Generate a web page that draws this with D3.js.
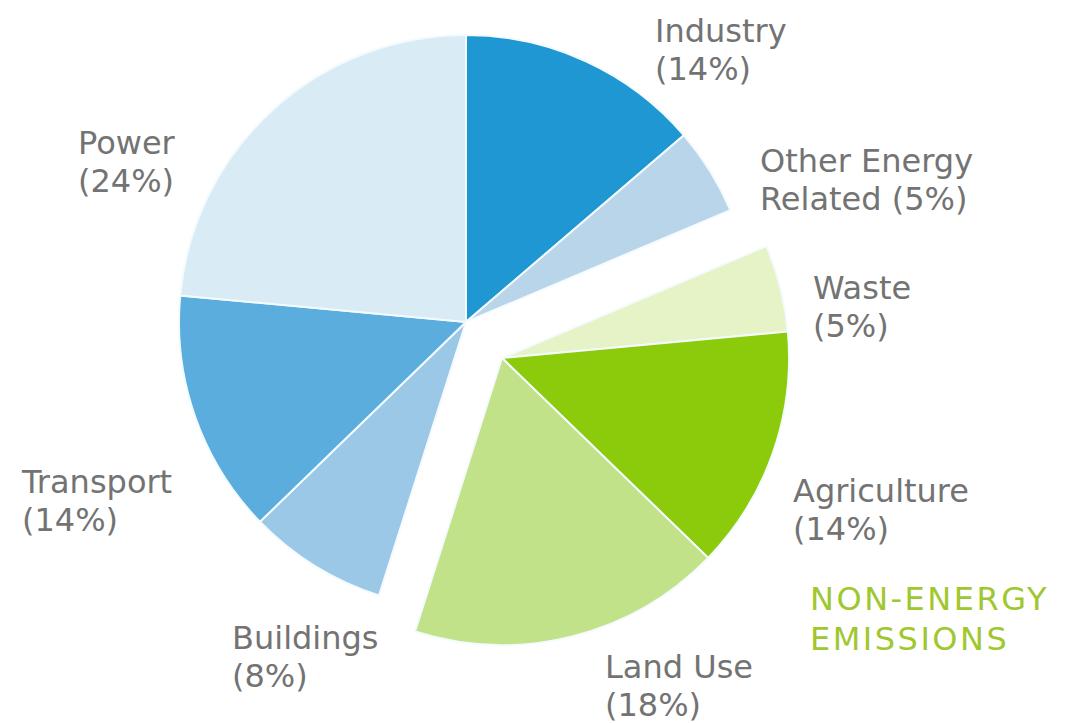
<!DOCTYPE html>
<html>
<head>
<meta charset="utf-8">
<script src="https://cdn.jsdelivr.net/npm/d3@7"></script>
<style>
  html, body { margin: 0; padding: 0; background: #fff; }
  .label { font-family: "DejaVu Sans", Verdana, sans-serif; font-size: 32px; fill: #737373; }
  .group-label { font-family: "DejaVu Sans", Verdana, sans-serif; font-size: 32px; fill: #9fc72e; letter-spacing: 2.5px; }
</style>
</head>
<body>
<div class="canvas"></div>
<script>
// what to show
var categories = ['Industry', 'Other Energy Related', 'Waste', 'Agriculture', 'Land Use', 'Buildings', 'Transport', 'Power'];
var shares = [14, 5, 5, 14, 18, 8, 14, 24];
var nonEnergy = ['Waste', 'Agriculture', 'Land Use'];
var groupTitle = ['NON-ENERGY', 'EMISSIONS'];

// how it looks
var colors = {
    'Industry': '#1f97d2',
    'Other Energy Related': '#b9d5ea',
    'Waste': '#e5f3c6',
    'Agriculture': '#8cca0c',
    'Land Use': '#c2e289',
    'Buildings': '#9cc8e8',
    'Transport': '#5badde',
    'Power': '#d9ebf5'
};

// where the labels sit (first line baseline)
var labelPos = {
    'Industry': [655, 42],
    'Other Energy Related': [760, 172],
    'Waste': [813, 299],
    'Agriculture': [793, 502],
    'Land Use': [605, 678],
    'Buildings': [232, 649],
    'Transport': [22, 493],
    'Power': [78, 154]
};

var width = 1069,
    height = 723,
    cx = 466,
    cy = 322,
    radius = 287,
    explode = 51,
    lineGap = 38;

var svg = d3.select('.canvas').append('svg')
    .attr('width', width)
    .attr('height', height);

var data = categories.map(function (c, i) {
    return { name: c, value: shares[i] };
});

var pie = d3.pie()
    .sort(null)
    .value(function (d) { return d.value; });

var arc = d3.arc()
    .innerRadius(0)
    .outerRadius(radius);

var arcs = pie(data);

// exploded group moves toward the bottom right
var dir = Math.PI * 3 / 4,
    dx = explode * Math.sin(dir),
    dy = -explode * Math.cos(dir);

var g = svg.append('g')
    .attr('transform', 'translate(' + cx + ',' + cy + ')');

g.selectAll('path')
    .data(arcs)
    .enter()
    .append('path')
    .attr('d', arc)
    .attr('fill', function (d) { return colors[d.data.name]; })
    .attr('stroke', '#f4fbff')
    .attr('stroke-width', 2)
    .attr('transform', function (d) {
        return nonEnergy.indexOf(d.data.name) > -1 ?
            'translate(' + dx + ',' + dy + ')' : null;
    });

// labels
function labelLines(name, share) {
    if (name === 'Other Energy Related') {
        return ['Other Energy', 'Related (' + share + '%)'];
    }
    return [name, '(' + share + '%)'];
}

categories.forEach(function (c, i) {
    var p = labelPos[c];
    var t = svg.append('text')
        .attr('class', 'label')
        .attr('x', p[0])
        .attr('y', p[1]);
    labelLines(c, shares[i]).forEach(function (line, j) {
        t.append('tspan')
            .attr('x', p[0])
            .attr('y', p[1] + j * lineGap)
            .text(line);
    });
});

var gt = svg.append('text')
    .attr('class', 'group-label');
groupTitle.forEach(function (line, j) {
    gt.append('tspan')
        .attr('x', 810)
        .attr('y', 610 + j * 40)
        .text(line);
});
</script>
</body>
</html>
